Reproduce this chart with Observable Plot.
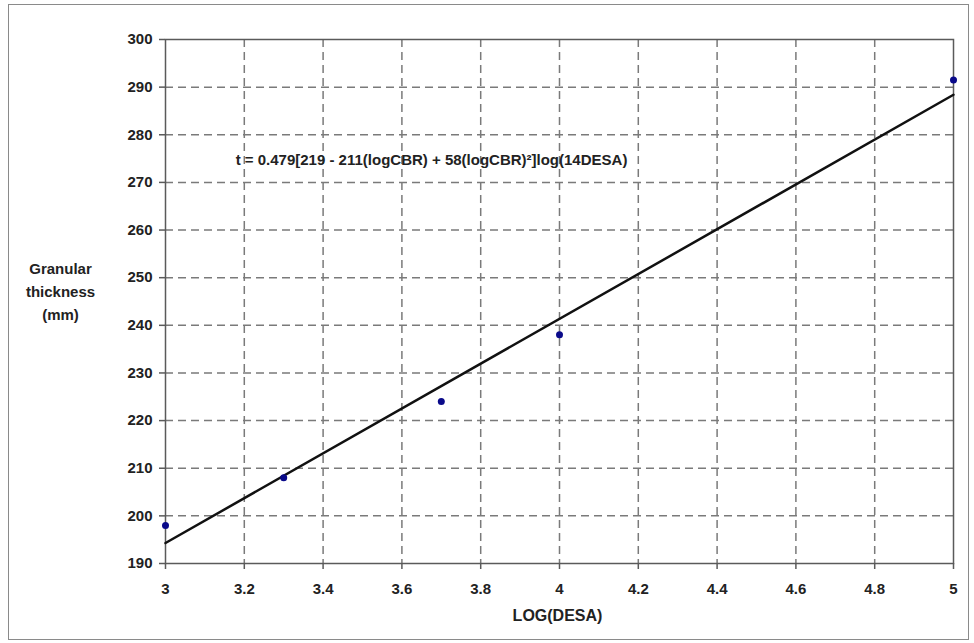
<!DOCTYPE html>
<html>
<head>
<meta charset="utf-8">
<script src="https://cdn.jsdelivr.net/npm/d3@7"></script>
<script src="https://cdn.jsdelivr.net/npm/@observablehq/plot@0.6"></script>
<style>
  body { margin: 0; background: #fff; }
  #chart { position: relative; width: 974px; height: 643px; }
  #chart svg { display: block; }
  #outline {
    position: absolute; left: 8px; top: 4px; width: 959px; height: 634px;
    border: 1.5px solid #8a8a8a; pointer-events: none;
  }
</style>
</head>
<body>
<div id="chart"><div id="outline"></div></div>
<script>
// Measured granular layer thickness against log of design traffic
const logDesa = [3, 3.3, 3.7, 4, 5];
const thickness = [198, 208, 224, 238, 291.5];

// Design equation line, evaluated at the ends of the traffic range
const fitLogDesa = [3, 5];
const fitThickness = [194.3, 288.4];

const xTicks = [3, 3.2, 3.4, 3.6, 3.8, 4, 4.2, 4.4, 4.6, 4.8, 5];
const yTicks = [190, 200, 210, 220, 230, 240, 250, 260, 270, 280, 290, 300];

const equation = "t = 0.479[219 - 211(logCBR) + 58(logCBR)²]log(14DESA)";
const yTitle = "Granular\nthickness\n(mm)";
const xTitle = "LOG(DESA)";

const points = logDesa.map((x, i) => ({x, y: thickness[i]}));
const fit = fitLogDesa.map((x, i) => ({x, y: fitThickness[i]}));

const font = "'Liberation Sans', Arial, sans-serif";
const gridStyle = {stroke: "#7a7a7a", strokeOpacity: 1, strokeWidth: 1.5, strokeDasharray: "8,5"};

const chart = Plot.plot({
  width: 974,
  height: 643,
  marginLeft: 165,
  marginRight: 21,
  marginTop: 39,
  marginBottom: 80,
  style: {fontFamily: font, fontWeight: "bold", color: "#222", background: "transparent", overflow: "visible"},
  x: {domain: [3, 5], label: null},
  y: {domain: [190, 300], label: null},
  marks: [
    Plot.gridX(xTicks.slice(1, -1), gridStyle),
    Plot.gridY(yTicks.slice(1, -1), gridStyle),
    Plot.frame({stroke: "#5a5a5a", strokeWidth: 1.5}),
    Plot.axisX(xTicks, {
      tickSize: 6, tickPadding: 14, stroke: "#5a5a5a", strokeWidth: 1.5,
      fontSize: 15, fontWeight: "bold", fontFamily: font, fill: "#222",
      tickFormat: d => String(d), label: null
    }),
    Plot.axisY(yTicks, {
      tickSize: 6, tickPadding: 7, stroke: "#5a5a5a", strokeWidth: 1.5,
      fontSize: 15, fontWeight: "bold", fontFamily: font, fill: "#222",
      tickFormat: d => String(d), label: null
    }),
    Plot.line(fit, {x: "x", y: "y", stroke: "#111", strokeWidth: 2.5}),
    Plot.dot(points, {x: "x", y: "y", r: 3.5, fill: "#0a0a8a", stroke: "none"}),
    Plot.text([equation], {
      x: 3.178, y: 274.6, textAnchor: "start",
      fontSize: 15, fontWeight: "bold", fontFamily: font, fill: "#222"
    }),
    Plot.text([yTitle], {
      frameAnchor: "left", dx: -105, dy: -12, textAnchor: "middle", lineHeight: 1.55,
      fontSize: 15, fontWeight: "bold", fontFamily: font, fill: "#222"
    }),
    Plot.text([xTitle], {
      frameAnchor: "bottom", dx: -2, dy: 57, textAnchor: "middle",
      fontSize: 16, fontWeight: "bold", fontFamily: font, fill: "#222"
    })
  ]
});

document.getElementById("chart").prepend(chart);
</script>
</body>
</html>
